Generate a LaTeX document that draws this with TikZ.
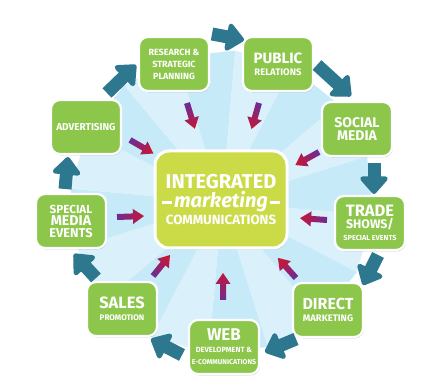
\documentclass[tikz,border=0pt]{standalone}
\usepackage{fontspec}
\setmainfont{Fira Sans}
\usetikzlibrary{shadows,arrows.meta,calc}
\definecolor{boxgreen}{HTML}{8CC64B}
\definecolor{centergreen}{HTML}{CBDB47}
\definecolor{tealc}{HTML}{2D778F}
\definecolor{purp}{HTML}{6F2C92}
\definecolor{crim}{HTML}{C4173A}
\definecolor{bgA}{HTML}{DAF1FB}
\definecolor{bgB}{HTML}{C6EAF8}
\newcommand\fsz[2]{\fontsize{#1}{#2}\selectfont}
% purple inward arrow: tail x, tail y, screen angle (clockwise from +x)
\newcommand\parrow[3]{%
  \pgfmathsetmacro\cx{cos(#3)}%
  \pgfmathsetmacro\sy{sin(#3)}%
  \pgfmathsetmacro\shadeang{270-#3}%
  \shade[top color=crim, bottom color=purp, shading angle=\shadeang]
    ({#1+3*\sy},{#2-3*\cx})
 -- ({#1+16*\cx+3*\sy},{#2+16*\sy-3*\cx})
 -- ({#1+16*\cx+7.5*\sy},{#2+16*\sy-7.5*\cx})
 -- ({#1+27*\cx},{#2+27*\sy})
 -- ({#1+16*\cx-7.5*\sy},{#2+16*\sy+7.5*\cx})
 -- ({#1+16*\cx-3*\sy},{#2+16*\sy+3*\cx})
 -- ({#1-3*\sy},{#2+3*\cx}) -- cycle;}
\begin{document}
\begin{tikzpicture}[x=1pt,y=-1pt,
  box/.style={draw=white, line width=2.2pt, fill=boxgreen, rounded corners=9pt,
    minimum width=70pt, minimum height=54pt, text=white, align=center,
    font=\bfseries, inner sep=1pt,
    drop shadow={shadow xshift=0.8pt, shadow yshift=-1.3pt, opacity=0.3, fill=black!70}},
  tealarrow/.style={draw=tealc, line width=13pt, -{Triangle[width=32pt,length=19pt,round]}},
]
\useasboundingbox (0,0) rectangle (429,387);
\fill[white] (0,0) rectangle (429,387);
% sunburst background
\coordinate (o) at (222,202);
\foreach \i in {0,2,...,14} {
  \pgfmathsetmacro\a{\i*22.5+5}
  \pgfmathsetmacro\b{(\i+1)*22.5+5}
  \pgfmathsetmacro\c{(\i+2)*22.5+5}
  \fill[bgA] (o) -- ($(o)+(\a:152)$) -- ($(o)+(\b:152)$) -- cycle;
  \fill[bgB] (o) -- ($(o)+(\b:152)$) -- ($(o)+(\c:152)$) -- cycle;
}
% outer boxes
\node[box] (research) at (174,64) {\fsz{9}{9.8}RESEARCH \&\\\fsz{9}{9.8}STRATEGIC\\\fsz{9}{9.8}PLANNING};
\node[box] (public) at (278,64) {\fsz{15}{13}PUBLIC\\\fsz{9.5}{10.5}RELATIONS};
\node[box] (social) at (357,129) {\fsz{14}{16}SOCIAL\\[1.5pt]\fsz{14}{16}MEDIA};
\node[box] (trade) at (370,223) {\fsz{16.5}{14}TRADE\\\fsz{12.4}{15.5}SHOWS/\\\fsz{7.3}{11}SPECIAL EVENTS};
\node[box] (direct) at (328,310) {\fsz{16}{14}DIRECT\\\fsz{9.5}{10.5}MARKETING};
\node[box] (web) at (224,347) {\fsz{17}{14}WEB\\\fsz{7.5}{9}DEVELOPMENT \&\\\fsz{7}{8.5}E-COMMUNICATIONS};
\node[box] (sales) at (122,309) {\fsz{16.4}{14}SALES\\\fsz{8.1}{10}PROMOTION};
\node[box] (special) at (71,221) {\fsz{11.7}{11.5}SPECIAL\\\fsz{14.2}{12.5}MEDIA\\\fsz{12.8}{12.5}EVENTS};
\node[box] (advert) at (86,127) {\fsz{10}{10}ADVERTISING};
% center box
\node[draw=white, line width=3pt, fill=centergreen, rounded corners=14pt,
  minimum width=132pt, minimum height=97pt, text=white, align=center, font=\bfseries,
  drop shadow={shadow xshift=1pt, shadow yshift=-1.5pt, opacity=0.3, fill=black!70}]
  (center) at (221,199.5)
  {\fsz{20}{20}INTEGRATED\\[2pt]
   \raisebox{4pt}{\rule{10pt}{2.6pt}}\,{\fsz{20}{20}\itshape marketing}\,\raisebox{4pt}{\rule{10pt}{2.6pt}}\\[2pt]
   \fsz{13.3}{14}COMMUNICATIONS};
% teal cycle arrows
\coordinate (ta1) at (212,34);  \coordinate (tb1) at (244,40);
\coordinate (ta2) at (317,65);  \coordinate (tb2) at (351,96);
\coordinate (ta3) at (374,163); \coordinate (tb3) at (374,194);
\coordinate (ta4) at (378,255); \coordinate (tb4) at (363,285);
\coordinate (ta5) at (296,339); \coordinate (tb5) at (265,352);
\coordinate (ta6) at (182,355); \coordinate (tb6) at (151,339);
\coordinate (ta7) at (96,278);  \coordinate (tb7) at (74,254);
\coordinate (ta8) at (65,189);  \coordinate (tb8) at (68,157);
\coordinate (ta9) at (107,93);  \coordinate (tb9) at (136,65);
\foreach \k in {1,...,9} { \draw[tealarrow] (ta\k) -- (tb\k); }
% purple inward arrows
\parrow{187}{103}{73}
\parrow{259}{103}{106}
\parrow{319}{152}{151}
\parrow{327}{220}{184}
\parrow{296}{278}{228}
\parrow{223}{300}{270}
\parrow{153}{276}{309}
\parrow{117}{217}{358}
\parrow{130}{140}{30}
\end{tikzpicture}
\end{document}
